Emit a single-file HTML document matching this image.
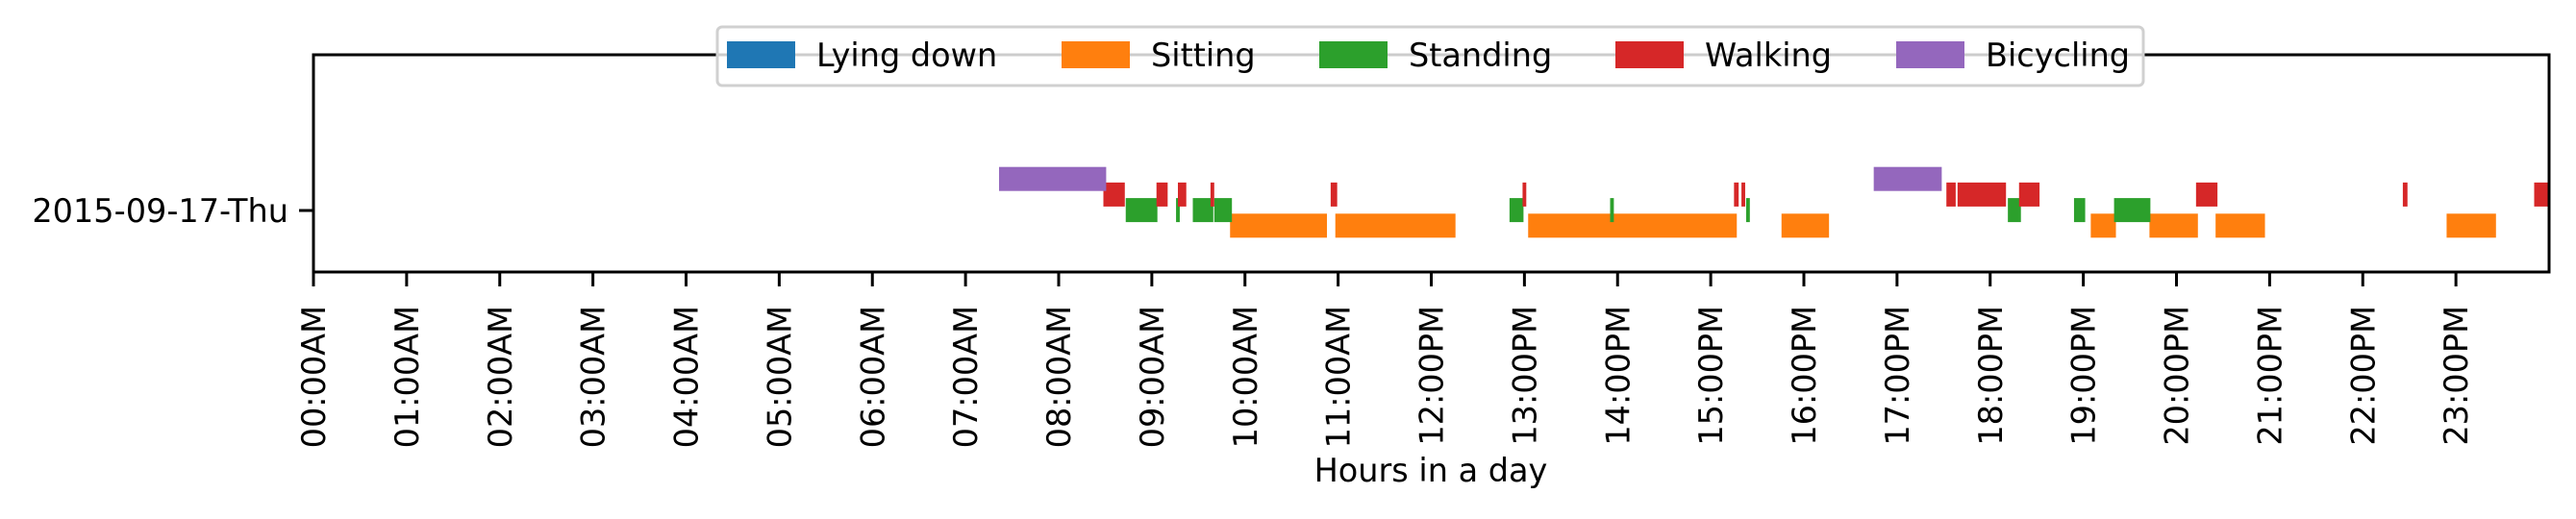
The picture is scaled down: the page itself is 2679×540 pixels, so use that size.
<!DOCTYPE html>
<html><head><meta charset="utf-8"><style>
html,body{margin:0;padding:0;background:#fff;}
svg{display:block;font-family:"DejaVu Sans","Liberation Sans",sans-serif;}
</style></head><body>
<svg id="chart" width="2679" height="540" viewBox="0 0 2679 540">
<g id="bars"></g>
<rect x="326" y="57" width="2325" height="226" fill="none" stroke="#000" stroke-width="3"/>
<g id="xticks"></g>
<line x1="311" y1="219" x2="326" y2="219" stroke="#000" stroke-width="3"/>
<text x="300" y="231" font-size="33.5" text-anchor="end">2015-09-17-Thu</text>
<text x="1488" y="501" font-size="33.5" text-anchor="middle">Hours in a day</text>
<g id="legend"></g>
</svg>
<script>
const categories = ["Lying down","Sitting","Standing","Walking","Bicycling"];
const colors = ["#1f77b4","#ff7f0e","#2ca02c","#d62728","#9467bd"];
const tickLabels = ["00:00AM","01:00AM","02:00AM","03:00AM","04:00AM","05:00AM","06:00AM","07:00AM","08:00AM","09:00AM","10:00AM","11:00AM","12:00PM","13:00PM","14:00PM","15:00PM","16:00PM","17:00PM","18:00PM","19:00PM","20:00PM","21:00PM","22:00PM","23:00PM"];
const lyingStart = [];
const lyingEnd = [];
const sittingStart = [9.84,10.97,13.04,15.76,19.08,19.71,20.42,22.90];
const sittingEnd   = [10.88,12.26,15.28,16.27,19.35,20.23,20.95,23.43];
const standingStart = [8.72,9.26,9.44,9.67,12.84,13.92,15.38,18.19,18.90,19.33];
const standingEnd   = [9.06,9.30,9.66,9.86,12.99,13.96,15.42,18.33,19.02,19.72];
const walkingStart = [8.48,9.05,9.28,9.63,10.92,12.98,15.25,15.33,17.53,17.65,18.31,20.21,22.43,23.84];
const walkingEnd   = [8.71,9.17,9.37,9.67,10.99,13.02,15.30,15.37,17.63,18.17,18.53,20.44,22.48,24.0];
const bicyclingStart = [7.36,16.75];
const bicyclingEnd   = [8.51,17.48];

const NS = "http://www.w3.org/2000/svg";
const X0 = 326, X1 = 2651, HMAX = 24;
function xScale(h){ return X0 + (X1 - X0) * h / HMAX; }
function rowTop(k){ return 238.5 - k * 16.2; }
const BAR_H = 25;

const series = [[lyingStart,lyingEnd],[sittingStart,sittingEnd],[standingStart,standingEnd],[walkingStart,walkingEnd],[bicyclingStart,bicyclingEnd]];
const barsG = document.getElementById('bars');
series.forEach(function(s, k){
  for (let i = 0; i < s[0].length; i++) {
    const r = document.createElementNS(NS, 'rect');
    const x = xScale(s[0][i]);
    r.setAttribute('x', x);
    r.setAttribute('y', rowTop(k));
    r.setAttribute('width', Math.max(xScale(s[1][i]) - x, 1));
    r.setAttribute('height', BAR_H);
    r.setAttribute('fill', colors[k]);
    
    
    barsG.appendChild(r);
  }
});

const xt = document.getElementById('xticks');
tickLabels.forEach(function(lab, i){
  const x = xScale(i);
  const l = document.createElementNS(NS, 'line');
  l.setAttribute('x1', x); l.setAttribute('x2', x);
  l.setAttribute('y1', 283); l.setAttribute('y2', 298);
  l.setAttribute('stroke', '#000'); l.setAttribute('stroke-width', 3);
  
  
  xt.appendChild(l);
  const t = document.createElementNS(NS, 'text');
  t.setAttribute('transform', 'translate(' + (x + 12) + ',318) rotate(-90)');
  t.setAttribute('text-anchor', 'end');
  t.setAttribute('font-size', '33.5');
  t.textContent = lab;
  
  
  xt.appendChild(t);
});

const lg = document.getElementById('legend');
const box = document.createElementNS(NS, 'rect');
box.setAttribute('x', 746); box.setAttribute('y', 28);
box.setAttribute('width', 1483); box.setAttribute('height', 61);
box.setAttribute('rx', 5);
box.setAttribute('fill', '#fff'); box.setAttribute('fill-opacity', '0.8');
box.setAttribute('stroke', '#d0d0d0'); box.setAttribute('stroke-width', 3);


lg.appendChild(box);
const patchX = [756,1104,1372,1680,1972];
categories.forEach(function(c, i){
  const p = document.createElementNS(NS, 'rect');
  p.setAttribute('x', patchX[i]); p.setAttribute('y', 43);
  p.setAttribute('width', 71); p.setAttribute('height', 28);
  p.setAttribute('fill', colors[i]);
  
  
  lg.appendChild(p);
  const t = document.createElementNS(NS, 'text');
  t.setAttribute('x', patchX[i] + 93); t.setAttribute('y', 69);
  t.setAttribute('font-size', '33.5');
  t.textContent = c;
  
  
  lg.appendChild(t);
});
</script>
</body></html>
